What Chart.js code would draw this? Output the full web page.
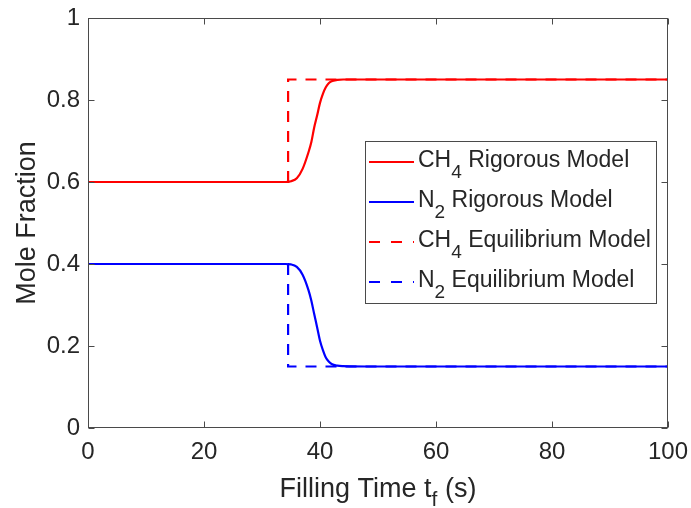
<!DOCTYPE html>
<html>
<head>
<meta charset="utf-8">
<script src="https://cdn.jsdelivr.net/npm/chart.js@4.4.0/dist/chart.umd.min.js"></script>
<style>
  html, body { margin: 0; padding: 0; background: #fff; }
  canvas { display: block; }
</style>
</head>
<body>
<canvas id="moleChart" width="691" height="508"></canvas>
<script>
// --- data ---
const tRig   = [0, 30, 34, 35, 36, 37, 38, 38.5, 39, 39.5, 40, 40.5, 41, 41.5, 42, 43, 44, 50, 100];
const ch4Rig = [0.6, 0.6, 0.6, 0.602, 0.609, 0.632, 0.672, 0.697, 0.733, 0.762, 0.793, 0.815, 0.831, 0.841, 0.846, 0.849, 0.85, 0.85, 0.85];
const n2Rig  = [0.4, 0.4, 0.4, 0.399, 0.393, 0.374, 0.337, 0.311, 0.278, 0.246, 0.213, 0.19, 0.172, 0.162, 0.156, 0.152, 0.151, 0.15, 0.15];

const tEq   = [0, 34.5, 34.5, 100];
const ch4Eq = [0.6, 0.6, 0.85, 0.85];
const n2Eq  = [0.4, 0.4, 0.15, 0.15];

const xTicks = [0, 20, 40, 60, 80, 100];
const yTicks = [0, 0.2, 0.4, 0.6, 0.8, 1];

const FONT = '"Liberation Sans", Arial, Helvetica, sans-serif';
const TEXT = '#262626';
const AXIS = '#4a4a4a';

const toPts = (xs, ys) => xs.map((x, i) => ({ x: x, y: ys[i] }));

// legend entries: [main, subscript, rest, colour, dashed]
const legendItems = [
    ['CH', '4', ' Rigorous Model', '#ff0000', false],
    ['N', '2', ' Rigorous Model', '#0000ff', false],
    ['CH', '4', ' Equilibrium Model', '#ff0000', true],
    ['N', '2', ' Equilibrium Model', '#0000ff', true]
];

// box, inner ticks, axis titles and legend, MATLAB style
const framePlugin = {
    id: 'frame',
    afterDraw(chart) {
        const c = chart.ctx;
        const a = chart.chartArea;
        const xs = chart.scales.x, ys = chart.scales.y;
        const L = Math.round(a.left) + 0.5, R = Math.round(a.right) - 0.5;
        const T = Math.round(a.top) + 0.5, B = Math.round(a.bottom) - 0.5;

        c.save();
        c.strokeStyle = AXIS;
        c.lineWidth = 1;
        c.setLineDash([]);
        c.strokeRect(L, T, R - L, B - T);

        c.beginPath();
        xTicks.forEach(v => {
            const px = Math.round(xs.getPixelForValue(v)) + 0.5;
            c.moveTo(px, B); c.lineTo(px, B - 6);
            c.moveTo(px, T); c.lineTo(px, T + 6);
        });
        yTicks.forEach(v => {
            const py = Math.round(ys.getPixelForValue(v)) + 0.5;
            c.moveTo(L, py); c.lineTo(L + 6, py);
            c.moveTo(R, py); c.lineTo(R - 6, py);
        });
        c.stroke();

        // axis titles
        c.fillStyle = TEXT;
        c.textBaseline = 'alphabetic';
        c.font = '27px ' + FONT;
        const cx = (a.left + a.right) / 2;
        const part1 = 'Filling Time t';
        const sub = 'f';
        const part2 = ' (s)';
        const w1 = c.measureText(part1).width;
        const w3 = c.measureText(part2).width;
        c.font = '21px ' + FONT;
        const w2 = c.measureText(sub).width;
        let x0 = cx - (w1 + w2 + w3) / 2;
        c.textAlign = 'left';
        c.font = '27px ' + FONT;
        c.fillText(part1, x0, 497);
        c.font = '21px ' + FONT;
        c.fillText(sub, x0 + w1, 506);
        c.font = '27px ' + FONT;
        c.fillText(part2, x0 + w1 + w2, 497);

        c.save();
        c.translate(35, (a.top + a.bottom) / 2);
        c.rotate(-Math.PI / 2);
        c.textAlign = 'center';
        c.fillText('Mole Fraction', 0, 0);
        c.restore();

        // legend
        const lx = 365.5, ly = 141.5, lw = 291, lh = 162;
        c.fillStyle = '#fff';
        c.fillRect(lx, ly, lw, lh);
        c.strokeStyle = AXIS;
        c.strokeRect(lx, ly, lw, lh);
        legendItems.forEach((it, i) => {
            const rowY = 162 + i * 40;
            c.strokeStyle = it[3];
            c.lineWidth = 2.2;
            c.setLineDash(it[4] ? [11, 11] : []);
            c.beginPath();
            c.moveTo(369, rowY); c.lineTo(414, rowY);
            c.stroke();
            c.setLineDash([]);
            c.fillStyle = TEXT;
            c.textAlign = 'left';
            let tx = 418;
            c.font = '23px ' + FONT;
            c.fillText(it[0], tx, rowY + 4.5);
            tx += c.measureText(it[0]).width;
            c.font = '19px ' + FONT;
            c.fillText(it[1], tx, rowY + 15.5);
            tx += c.measureText(it[1]).width;
            c.font = '23px ' + FONT;
            c.fillText(it[2], tx, rowY + 4.5);
        });
        c.restore();
    }
};

const ctx = document.getElementById('moleChart').getContext('2d');

new Chart(ctx, {
    type: 'line',
    data: {
        datasets: [
            {
                label: 'CH4 Rigorous Model',
                data: toPts(tRig, ch4Rig),
                borderColor: '#ff0000',
                borderWidth: 2.2,
                cubicInterpolationMode: 'monotone'
            },
            {
                label: 'N2 Rigorous Model',
                data: toPts(tRig, n2Rig),
                borderColor: '#0000ff',
                borderWidth: 2.2,
                cubicInterpolationMode: 'monotone'
            },
            {
                label: 'CH4 Equilibrium Model',
                data: toPts(tEq, ch4Eq),
                borderColor: '#ff0000',
                borderWidth: 2.2,
                borderDash: [11, 9],
                tension: 0
            },
            {
                label: 'N2 Equilibrium Model',
                data: toPts(tEq, n2Eq),
                borderColor: '#0000ff',
                borderWidth: 2.2,
                borderDash: [11, 9],
                tension: 0
            }
        ]
    },
    options: {
        responsive: false,
        animation: false,
        layout: { padding: { left: 0, right: 23, top: 18, bottom: 0 } },
        elements: { point: { radius: 0 } },
        plugins: {
            legend: { display: false },
            tooltip: { enabled: false }
        },
        scales: {
            x: {
                type: 'linear',
                min: 0,
                max: 100,
                afterBuildTicks: s => { s.ticks = xTicks.map(v => ({ value: v })); },
                afterFit: s => { s.height = 80; s.paddingLeft = 0; s.paddingRight = 0; },
                grid: { display: false, drawTicks: false },
                border: { display: false },
                ticks: { padding: 10, color: TEXT, font: { family: FONT, size: 24 }, maxRotation: 0 }
            },
            y: {
                type: 'linear',
                min: 0,
                max: 1,
                afterBuildTicks: s => { s.ticks = yTicks.map(v => ({ value: v })); },
                afterFit: s => { s.width = 88; s.paddingTop = 0; s.paddingBottom = 0; },
                grid: { display: false, drawTicks: false },
                border: { display: false },
                ticks: { padding: 8, color: TEXT, font: { family: FONT, size: 24 }, callback: v => String(v) }
            }
        }
    },
    plugins: [framePlugin]
});
</script>
</body>
</html>
